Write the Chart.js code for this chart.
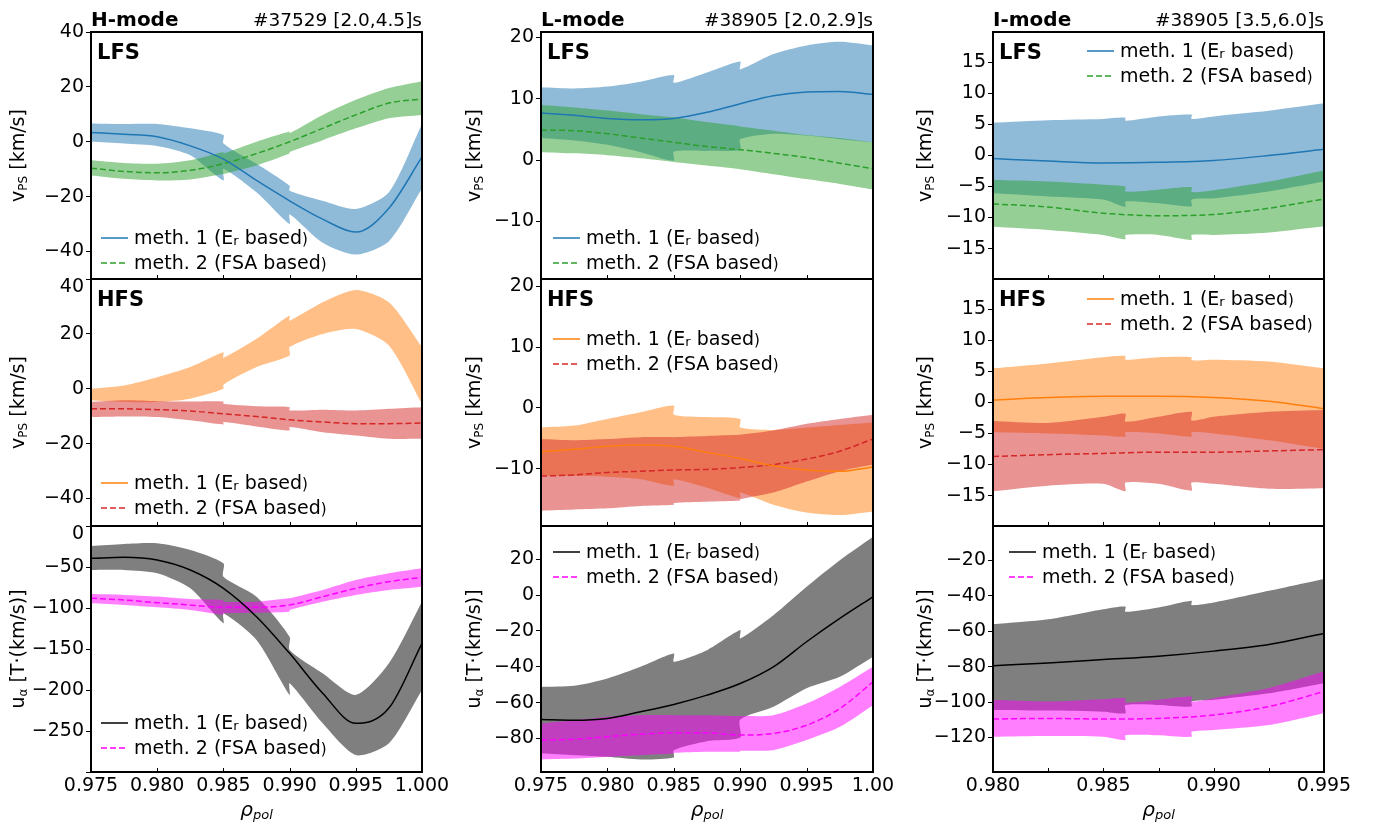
<!DOCTYPE html>
<html>
<head>
<meta charset="utf-8">
<script src="https://cdn.jsdelivr.net/npm/chart.js@4.4.1/dist/chart.umd.min.js"></script>
<style>
html, body { margin: 0; padding: 0; background: #fff; }
#wrap { position: relative; width: 1375px; height: 825px; }
#wrap canvas { position: absolute; left: 0; top: 0; }
</style>
</head>
<body>
<div id="wrap"></div>
<script>
// x grids (rho_pol). band grids repeat the points where the error band jumps
var hLineX = [0.975, 0.9775, 0.98, 0.9825, 0.985, 0.9875, 0.99, 0.9925, 0.995, 0.9975, 1.0];
var hBandX = [0.975, 0.9775, 0.98, 0.9825, 0.985, 0.985, 0.9875, 0.99, 0.99, 0.9925, 0.995, 0.9975, 1.0];
var lLineX = hLineX;
var lBandX = hBandX;
var iLineX = [0.98, 0.9825, 0.985, 0.9875, 0.99, 0.9925, 0.995];
var iBandX = [0.98, 0.9825, 0.985, 0.986, 0.986, 0.9875, 0.989, 0.989, 0.99, 0.9925, 0.995];

// H-mode, LFS v_PS [km/s]
var hLfsM1 = [3.4, 2.7, 1.8, -1.5, -6.3, -14.1, -21.5, -28.2, -32.9, -24.2, -5.5];
var hLfsM1Hi = [6.7, 6.5, 6.5, 4.9, 2.5, -0.6, -8.0, -16.0, -17.8, -21.5, -24.5, -18.4, 6.5];
var hLfsM1Lo = [0, -0.6, -1.5, -4.9, -14.1, -9.8, -18.4, -30.0, -26.4, -36.8, -41.1, -36.2, -17.0];
var hLfsM2 = [-9.6, -10.8, -11.3, -10.4, -8.0, -4.3, 0, 4.9, 9.8, 14.1, 15.6];
var hLfsM2Hi = [-6.7, -7.7, -8.0, -6.7, -3.7, -4.3, 0, 3.7, 3.1, 9.8, 15.3, 19.6, 22.1];
var hLfsM2Lo = [-12.3, -13.5, -14.1, -13.7, -11.7, -11.7, -8.6, -4.3, -3.7, 0.6, 4.9, 8.6, 9.8];
// H-mode, HFS (meth. 1 has no centre line in the picture)
var hHfsM1Hi = [0, 1.2, 4.2, 7.9, 13.3, 11.3, 18.2, 26.7, 24.8, 31.5, 36.0, 31.5, 15.2];
var hHfsM1Lo = [-4.2, -4.8, -4.8, -3.6, 0.0, 1.5, 7.9, 12.1, 15.2, 20.0, 21.8, 15.8, -5.5];
var hHfsM2 = [-7.3, -7.3, -7.6, -8.1, -9.1, -10.1, -11.3, -12.1, -12.7, -12.7, -12.5];
var hHfsM2Hi = [-4.8, -4.2, -4.5, -4.6, -4.6, -5.5, -6.4, -6.7, -7.9, -7.6, -7.9, -7.3, -6.7];
var hHfsM2Lo = [-10.3, -10.1, -10.3, -11.5, -13.0, -12.1, -13.7, -15.2, -13.9, -15.8, -17.0, -18.2, -18.2];
// H-mode, u_alpha [T(km/s)]
var hTotM1 = [-39.4, -38.2, -41.5, -53.7, -76, -110.6, -155.3, -204, -240.7, -222, -143];
var hTotM1Hi = [-24.4, -22, -21.1, -29.3, -45.5, -61.8, -86.2, -135, -151.2, -179.7, -206, -167.5, -92.3];
var hTotM1Lo = [-53.7, -53.7, -57.7, -76, -118.7, -106.5, -139, -206, -191.9, -240.7, -279.3, -265, -200];
var hTotM2 = [-88.2, -90.2, -93.5, -96.3, -99.2, -99.2, -96.3, -86.2, -76, -67.9, -62.6];
var hTotM2Hi = [-83, -84, -86, -89, -90.2, -92.3, -92.3, -88.2, -88.2, -78, -65.9, -57.7, -51.6];
var hTotM2Lo = [-94.3, -96.3, -99.2, -102.4, -108.5, -106.5, -105.7, -104.5, -102.4, -92.3, -84.1, -78, -74];

// L-mode, LFS
var lLfsM1 = [7.7, 7.3, 6.8, 6.6, 6.8, 7.8, 9.2, 10.5, 11.1, 11.2, 10.7];
var lLfsM1Hi = [11.9, 11.7, 12.0, 12.8, 13.9, 12.6, 14.3, 16.1, 14.8, 17.3, 18.7, 19.3, 18.7];
var lLfsM1Lo = [3.6, 3.2, 2.5, 1.3, -0.1, 1.4, 1.5, 1.7, 3.4, 4.3, 4.0, 3.4, 2.9];
var lLfsM2 = [4.9, 4.8, 4.3, 3.6, 2.9, 2.2, 1.7, 1.1, 0.4, -0.5, -1.4];
var lLfsM2Hi = [9.0, 8.6, 8.1, 7.5, 7.0, 7.0, 6.2, 5.5, 5.5, 4.8, 4.1, 3.6, 2.9];
var lLfsM2Lo = [1.3, 1.1, 0.8, 0.3, -0.3, -0.3, -0.9, -1.5, -1.5, -2.3, -3.1, -3.9, -4.8];
// L-mode, HFS
var lHfsM1 = [-7.2, -6.8, -6.3, -6.1, -6.3, -7.3, -8.3, -9.5, -10.2, -10.4, -9.7];
var lHfsM1Hi = [-3.2, -2.9, -1.8, -0.7, 0.4, -1.1, -1.5, -1.8, -3.2, -3.6, -3.2, -2.8, -2.4];
var lHfsM1Lo = [-11.2, -11.2, -11.3, -11.7, -12.8, -11.7, -13.1, -14.8, -13.9, -15.9, -17.2, -17.6, -17.0];
var lHfsM2 = [-11.2, -11.0, -10.6, -10.4, -10.2, -10.1, -9.8, -9.3, -8.4, -7.1, -5.1];
var lHfsM2Hi = [-5.1, -5.3, -5.1, -4.8, -4.8, -4.8, -4.6, -4.4, -4.4, -3.7, -2.6, -1.8, -1.1];
var lHfsM2Lo = [-16.9, -16.7, -16.5, -16.1, -15.9, -15.6, -15.4, -15.2, -15.0, -13.9, -12.1, -10.4, -9.3];
// L-mode, u_alpha
var lTotM1 = [-69.4, -69.8, -68.8, -65.1, -61, -55.8, -49.3, -40, -26, -13, -0.9];
var lTotM1Hi = [-51.2, -50.6, -46.5, -40, -32.6, -37.2, -30.7, -19.5, -24.2, -11.2, 4.7, 19.5, 32.6];
var lTotM1Lo = [-88.4, -89.3, -90.2, -91.7, -90.6, -86.5, -81.5, -79.5, -69.5, -62.3, -52, -45.6, -34.4];
var lTotM2 = [-80.9, -80.4, -79, -77.6, -76.8, -76.8, -78.1, -77.2, -72.6, -63.3, -48.4];
var lTotM2Hi = [-71.6, -69.8, -67.9, -67, -67, -67, -67, -67.5, -67.5, -67, -60.5, -51.2, -40];
var lTotM2Lo = [-91.7, -91.2, -90.2, -89.3, -88.4, -88, -87.4, -87.4, -86.9, -86.5, -80.9, -73.5, -61.4];

// I-mode, LFS
var iLfsM1 = [-0.5, -0.9, -1.2, -1.1, -0.8, 0, 1.0];
var iLfsM1Hi = [5.3, 5.7, 5.9, 6.1, 5.6, 6.3, 6.6, 5.9, 6.3, 7.2, 8.4];
var iLfsM1Lo = [-6.1, -6.6, -7.1, -8.3, -7.4, -7.7, -8.2, -7.1, -6.9, -5.8, -4.2];
var iLfsM2 = [-7.8, -8.3, -9.3, -9.7, -9.5, -8.5, -7.0];
var iLfsM2Hi = [-3.9, -4.2, -4.7, -5.0, -5.8, -5.5, -5.1, -5.9, -5.6, -4.2, -2.4];
var iLfsM2Lo = [-11.5, -12.0, -12.8, -13.5, -12.8, -12.8, -13.6, -12.8, -12.8, -12.4, -11.4];
// I-mode, HFS
var iHfsM1 = [0.4, 0.8, 1.0, 1.0, 0.8, 0.2, -1.0];
var iHfsM1Hi = [5.5, 6.3, 7.3, 7.5, 6.9, 7.3, 7.3, 6.8, 6.9, 6.6, 5.5];
var iHfsM1Lo = [-4.8, -5.0, -5.3, -5.5, -4.8, -5.0, -5.5, -4.8, -5.0, -6.1, -7.5];
var iHfsM2 = [-8.7, -8.4, -8.2, -8.0, -8.0, -7.8, -7.6];
var iHfsM2Hi = [-3.0, -3.3, -2.3, -1.8, -3.1, -2.3, -1.5, -2.9, -2.3, -1.5, -1.2];
var iHfsM2Lo = [-14.3, -13.4, -13.1, -14.3, -12.9, -13.1, -14.2, -12.9, -13.1, -13.9, -13.8];
// I-mode, u_alpha
var iTotM1 = [-79.4, -77.9, -76, -74.1, -71.2, -67.4, -61.2];
var iTotM1Hi = [-56, -53.2, -47.5, -46, -49, -46.6, -42.8, -45.2, -43.7, -37.1, -30.4];
var iTotM1Lo = [-104.4, -104.8, -105.4, -106.3, -101.6, -101.6, -102.5, -99.7, -98.7, -95, -89.3];
var iTotM2 = [-109.6, -109.2, -109.6, -109.2, -107.3, -102.5, -94];
var iTotM2Hi = [-98.7, -99.7, -98.4, -97.8, -100.3, -98.7, -96.9, -99.7, -97.8, -92.1, -82.6];
var iTotM2Lo = [-119.6, -119.2, -119.6, -121.5, -118.7, -118.7, -119.6, -116.8, -115.8, -113, -106.3];

// text
var modeNames = ['H-mode', 'L-mode', 'I-mode'];
var shotNames = ['#37529 [2.0,4.5]s', '#38905 [2.0,2.9]s', '#38905 [3.5,6.0]s'];
var sideNames = ['LFS', 'HFS', ''];

// ---------------------------------------------------------------

var FONT = 'DejaVu Sans';
Chart.defaults.font.family = FONT;
Chart.defaults.color = '#000';

var BLUE = {line: '#1f77b4', band: 'rgba(31,119,180,0.5)'};
var GREEN = {line: '#2ca02c', band: 'rgba(44,160,44,0.5)'};
var ORANGE = {line: '#ff7f0e', band: 'rgba(255,127,14,0.5)'};
var RED = {line: '#d62728', band: 'rgba(214,39,40,0.5)'};
var BLACK = {line: '#000000', band: 'rgba(0,0,0,0.5)'};
var MAGENTA = {line: '#ff00ff', band: 'rgba(255,0,255,0.5)'};

var Y_W = 62;   // width kept for y tick labels
var X_H = 40;   // height kept for x tick labels (bottom row)

// plot boxes in page pixels
var cols = [
  {left: 91, right: 422, min: 0.975, max: 1.0, step: 0.005, yTitleX: 19, lineX: hLineX, bandX: hBandX},
  {left: 541, right: 873, min: 0.975, max: 1.0, step: 0.005, yTitleX: 475, lineX: lLineX, bandX: lBandX},
  {left: 993, right: 1324, min: 0.98, max: 0.995, step: 0.0025, yTitleX: 926, lineX: iLineX, bandX: iBandX}
];
var rows = [{top: 32, bottom: 279}, {top: 279, bottom: 526}, {top: 526, bottom: 772}];

// hide: tick values without label; shiftTop: top label drawn a bit lower
var panels = [
  {col: 0, row: 0, yMin: -50, yMax: 40, yStep: 20, leg: [10, 206],
    s1: {c: BLUE, m: hLfsM1, hi: hLfsM1Hi, lo: hLfsM1Lo}, s2: {c: GREEN, m: hLfsM2, hi: hLfsM2Hi, lo: hLfsM2Lo}},
  {col: 0, row: 1, yMin: -50, yMax: 40, yStep: 20, leg: [10, 204], shiftTop: 8,
    s1: {c: ORANGE, m: null, hi: hHfsM1Hi, lo: hHfsM1Lo}, s2: {c: RED, m: hHfsM2, hi: hHfsM2Hi, lo: hHfsM2Lo}},
  {col: 0, row: 2, yMin: -300, yMax: 0, yStep: 50, leg: [10, 197], shiftTop: 8, hide: [-300],
    s1: {c: BLACK, m: hTotM1, hi: hTotM1Hi, lo: hTotM1Lo}, s2: {c: MAGENTA, m: hTotM2, hi: hTotM2Hi, lo: hTotM2Lo}},
  {col: 1, row: 0, yMin: -19.4, yMax: 20.9, yStep: 10, leg: [12, 206],
    s1: {c: BLUE, m: lLfsM1, hi: lLfsM1Hi, lo: lLfsM1Lo}, s2: {c: GREEN, m: lLfsM2, hi: lLfsM2Hi, lo: lLfsM2Lo}},
  {col: 1, row: 1, yMin: -19.4, yMax: 21.2, yStep: 10, leg: [12, 60],
    s1: {c: ORANGE, m: lHfsM1, hi: lHfsM1Hi, lo: lHfsM1Lo}, s2: {c: RED, m: lHfsM2, hi: lHfsM2Hi, lo: lHfsM2Lo}},
  {col: 1, row: 2, yMin: -98.7, yMax: 38.6, yStep: 20, leg: [12, 26],
    s1: {c: BLACK, m: lTotM1, hi: lTotM1Hi, lo: lTotM1Lo}, s2: {c: MAGENTA, m: lTotM2, hi: lTotM2Hi, lo: lTotM2Lo}},
  {col: 2, row: 0, yMin: -19.9, yMax: 19.9, yStep: 5, leg: [94, 19],
    s1: {c: BLUE, m: iLfsM1, hi: iLfsM1Hi, lo: iLfsM1Lo}, s2: {c: GREEN, m: iLfsM2, hi: iLfsM2Hi, lo: iLfsM2Lo}},
  {col: 2, row: 1, yMin: -19.9, yMax: 19.9, yStep: 5, leg: [94, 20],
    s1: {c: ORANGE, m: iHfsM1, hi: iHfsM1Hi, lo: iHfsM1Lo}, s2: {c: RED, m: iHfsM2, hi: iHfsM2Hi, lo: iHfsM2Lo}},
  {col: 2, row: 2, yMin: -139.5, yMax: -0.5, yStep: 20, leg: [16, 26],
    s1: {c: BLACK, m: iTotM1, hi: iTotM1Hi, lo: iTotM1Lo}, s2: {c: MAGENTA, m: iTotM2, hi: iTotM2Hi, lo: iTotM2Lo}}
];

function pts(xs, ys) {
  return xs.map(function (x, i) { return {x: x, y: ys[i]}; });
}

function lineSet(xs, ys, c, dash) {
  return {data: pts(xs, ys), borderColor: c.line, borderWidth: 1.5, borderDash: dash,
    pointRadius: 0, fill: false, cubicInterpolationMode: 'monotone', order: 0};
}

function bandSets(xs, hi, lo, c, order) {
  return [
    {data: pts(xs, hi), borderWidth: 0, borderColor: 'transparent', pointRadius: 0,
      fill: '+1', backgroundColor: c.band, tension: 0.25, order: order},
    {data: pts(xs, lo), borderWidth: 0, borderColor: 'transparent', pointRadius: 0,
      fill: false, tension: 0.25, order: order}
  ];
}

function fmtNum(v) {
  var r = Math.round(v * 1000) / 1000;
  if (r === 0) return '0';
  return (r < 0 ? '\u2212' : '') + Math.abs(r);
}

// draw a row of text pieces with different fonts / baseline shifts
function drawRuns(ctx, runs, x, y, align) {
  var total = 0;
  runs.forEach(function (r) { ctx.font = r.f; r.w = ctx.measureText(r.t).width; total += r.w; });
  var cx = align === 'center' ? x - total / 2 : (align === 'right' ? x - total : x);
  runs.forEach(function (r) {
    ctx.font = r.f;
    ctx.fillText(r.t, cx, y + (r.dy || 0));
    cx += r.w;
  });
}

var F19 = '19px ' + FONT, F13 = '13px ' + FONT, F15 = '15px ' + FONT, F12 = '12px ' + FONT;

function legendRuns(n) {
  if (n === 1) {
    return [{t: 'meth. 1 (E', f: F19}, {t: 'r', f: F13, dy: 3}, {t: ' based', f: F19}, {t: ')', f: F15, dy: 1}];
  }
  return [{t: 'meth. 2 (FSA based', f: F19}, {t: ')', f: F15, dy: 1}];
}

// frame, inward x ticks, labels and legend
var deco = {
  id: 'deco',
  afterDraw: function (chart, args, o) {
    var ctx = chart.ctx, a = chart.chartArea;
    var p = o.panel, col = cols[p.col];
    ctx.save();
    ctx.strokeStyle = '#000';
    ctx.fillStyle = '#000';

    var xs = chart.scales.x, ys = chart.scales.y;
    ctx.lineWidth = 1;
    xs.ticks.forEach(function (t) {
      var px = Math.round(xs.getPixelForValue(t.value)) + 0.5;
      ctx.beginPath();
      ctx.moveTo(px, a.bottom);
      ctx.lineTo(px, a.bottom - 4);
      ctx.stroke();
    });
    ctx.lineWidth = 2;
    ctx.strokeRect(a.left, a.top, a.right - a.left, a.bottom - a.top);

    // top y label moved down as in the source figure
    if (p.shiftTop) {
      ctx.font = F19;
      ctx.textAlign = 'right';
      ctx.textBaseline = 'middle';
      ctx.fillText(fmtNum(p.yMax), a.left - 7, ys.getPixelForValue(p.yMax) + p.shiftTop);
    }

    // side label
    ctx.textBaseline = 'alphabetic';
    ctx.textAlign = 'left';
    if (sideNames[p.row]) {
      ctx.font = 'bold 21px ' + FONT;
      ctx.fillText(sideNames[p.row], a.left + 6, a.top + 27);
    }

    // legend
    ctx.textBaseline = 'middle';
    [p.s1, p.s2].forEach(function (s, i) {
      var lx = a.left + p.leg[0], ly = a.top + p.leg[1] + i * 25;
      ctx.strokeStyle = s.c.line;
      ctx.lineWidth = 1.5;
      ctx.setLineDash(i === 0 ? [] : [6, 3]);
      ctx.beginPath();
      ctx.moveTo(lx, ly);
      ctx.lineTo(lx + 27, ly);
      ctx.stroke();
      ctx.setLineDash([]);
      drawRuns(ctx, legendRuns(i + 1), lx + 33, ly + 1, 'left');
    });

    // y title, rotated
    ctx.save();
    ctx.translate(col.yTitleX, (a.top + a.bottom) / 2);
    ctx.rotate(-Math.PI / 2);
    var yRuns = p.row < 2
      ? [{t: 'v', f: F19}, {t: 'PS', f: F12, dy: 5}, {t: ' [km/s]', f: F19}]
      : [{t: 'u', f: F19}, {t: '\u03b1', f: F12, dy: 5}, {t: ' [T\u00b7(km/s)]', f: F19}];
    drawRuns(ctx, yRuns, 0, 0, 'center');
    ctx.restore();

    // column header
    ctx.textBaseline = 'alphabetic';
    if (p.row === 0) {
      ctx.font = 'bold 20px ' + FONT;
      ctx.textAlign = 'left';
      ctx.fillText(modeNames[p.col], col.left, 26);
      ctx.font = '18.5px ' + FONT;
      ctx.textAlign = 'right';
      ctx.fillText(shotNames[p.col], col.right, 26);
      ctx.textAlign = 'left';
    }
    // x title
    if (p.row === 2) {
      drawRuns(ctx, [{t: '\u03c1', f: 'italic 20px ' + FONT}, {t: 'pol', f: 'italic 13px ' + FONT, dy: 3}],
        (a.left + a.right) / 2, 816, 'center');
    }
    ctx.restore();
  }
};

var wrap = document.getElementById('wrap');

panels.forEach(function (p) {
  var col = cols[p.col], row = rows[p.row];
  var xH = p.row === 2 ? X_H : 0;
  var cv = document.createElement('canvas');
  cv.width = 1375;
  cv.height = 825;
  wrap.appendChild(cv);

  var ds = [];
  if (p.s1.m) ds.push(lineSet(col.lineX, p.s1.m, p.s1.c, []));
  ds.push(lineSet(col.lineX, p.s2.m, p.s2.c, [6, 3]));
  ds = ds.concat(bandSets(col.bandX, p.s2.hi, p.s2.lo, p.s2.c, 1));
  ds = ds.concat(bandSets(col.bandX, p.s1.hi, p.s1.lo, p.s1.c, 2));

  new Chart(cv, {
    type: 'line',
    data: {datasets: ds},
    plugins: [deco],
    options: {
      responsive: false,
      animation: false,
      devicePixelRatio: 1,
      events: [],
      layout: {padding: {left: col.left - Y_W, right: 1375 - col.right, top: row.top, bottom: 825 - row.bottom - xH}},
      plugins: {
        legend: {display: false},
        tooltip: {enabled: false},
        deco: {panel: p}
      },
      scales: {
        x: {
          type: 'linear', min: col.min, max: col.max,
          afterFit: function (s) { s.height = xH; },
          border: {display: false},
          grid: {drawOnChartArea: false, drawTicks: false},
          ticks: {
            display: p.row === 2, stepSize: col.step, autoSkip: false, maxRotation: 0, padding: 3,
            font: {size: 19},
            callback: function (v) {
              if (p.col === 2 && Math.round(v * 10000) % 50 !== 0) return '';
              if (p.col === 1 && Math.abs(v - 1) < 1e-9) return '1.00';
              return v.toFixed(3);
            }
          }
        },
        y: {
          type: 'linear', min: p.yMin, max: p.yMax,
          afterFit: function (s) { s.width = Y_W; },
          border: {display: false},
          grid: {drawOnChartArea: false, drawTicks: true, tickLength: 5, color: '#000', tickColor: '#000', tickWidth: 1},
          ticks: {stepSize: p.yStep, includeBounds: false, autoSkip: false, padding: 2,
            font: {size: 19},
            callback: function (v) {
              if (p.shiftTop && Math.abs(v - p.yMax) < 1e-6) return '';
              if (p.hide && p.hide.indexOf(Math.round(v)) >= 0) return '';
              return fmtNum(v);
            }
          }
        }
      }
    }
  });
});
</script>
</body>
</html>
